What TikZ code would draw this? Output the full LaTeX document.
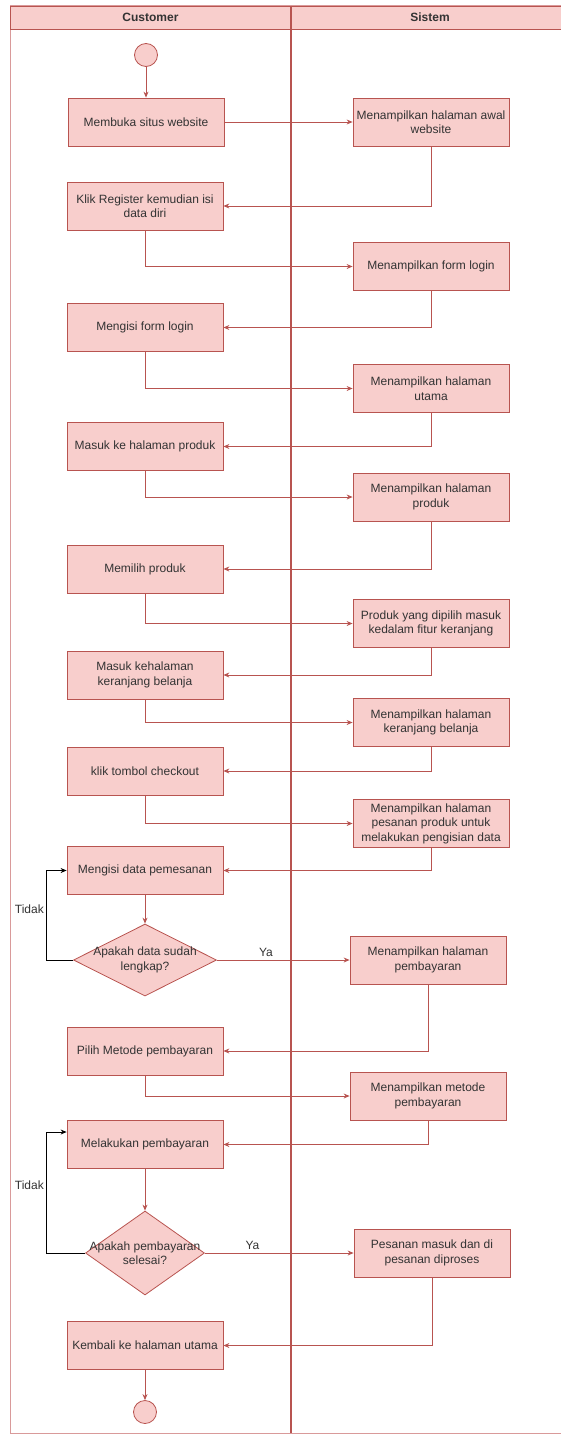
\documentclass[tikz,border=0pt]{standalone}
\usepackage{fontspec}
\setmainfont{Liberation Sans}
\usetikzlibrary{shapes.geometric,arrows.meta}
\definecolor{fc}{HTML}{F8CECC}
\definecolor{lc}{HTML}{B85450}
\definecolor{pl}{HTML}{D99A9A}
\definecolor{txt}{HTML}{333333}
\newcommand{\fs}{\fontsize{12}{14.5}\selectfont}
\tikzset{
  act/.style={draw=lc, fill=fc, line width=0.8pt, minimum width=156pt, minimum height=48pt,
    align=center, font=\fs, text=txt, inner sep=2pt},
  dec/.style={diamond, draw=lc, fill=fc, line width=0.8pt, inner sep=0pt},
  dot/.style={circle, draw=lc, fill=fc, line width=0.8pt, minimum size=23pt, inner sep=0pt},
  flow/.style={draw=lc, line width=0.8pt, -{Stealth[length=6pt,width=5pt]}},
  back/.style={draw=black, line width=0.8pt, -{Stealth[length=6pt,width=5pt]}},
  lbl/.style={font=\fs, text=txt, inner sep=1pt},
  hdr/.style={font=\fs\bfseries, text=txt}
}
\begin{document}
\begin{tikzpicture}[x=1pt,y=-1pt]
\useasboundingbox (0,0) rectangle (561,1437);
% pool
\draw[pl, line width=1pt] (10,6) rectangle (569,1433);
\draw[lc, line width=0.8pt, fill=fc] (10,6) rectangle (569,29);
\draw[lc, line width=1.3pt] (291,6) -- (291,1433);
\node[hdr] (h1) at (150.5,17.5) {Customer};
\node[hdr] (h2) at (430,17.5) {Sistem};
% nodes
\node[dot] (start) at (146,55) {};
\node[act] (b1) at (146,122) {Membuka situs website};
\node[act] (r1) at (431,122) {Menampilkan halaman awal\\website};
\node[act] (b2) at (145,206) {Klik Register kemudian isi\\data diri};
\node[act] (r2) at (431,266.5) {Menampilkan form login};
\node[act] (b3) at (145,327.5) {Mengisi form login};
\node[act] (r3) at (431,388.5) {Menampilkan halaman\\utama};
\node[act] (b4) at (145,446.5) {Masuk ke halaman produk};
\node[act] (r4) at (431,497) {Menampilkan halaman\\produk};
\node[act] (b5) at (145,569) {Memilih produk};
\node[act] (r5) at (431,623.5) {Produk yang dipilih masuk\\kedalam fitur keranjang};
\node[act] (b6) at (145,675) {Masuk kehalaman\\keranjang belanja};
\node[act] (r6) at (431,722.5) {Menampilkan halaman\\keranjang belanja};
\node[act] (b7) at (145,771) {klik tombol checkout};
\node[act] (r7) at (431,823.5) {Menampilkan halaman\\pesanan produk untuk\\melakukan pengisian data};
\node[act] (b8) at (145,870.5) {Mengisi data pemesanan};
\node[dec, minimum width=143pt, minimum height=72pt,
  label={[lbl, align=center]center:{Apakah data sudah\\lengkap?}}] (d1) at (145,960) {};
\node[act] (r8) at (428,960) {Menampilkan halaman\\pembayaran};
\node[act] (b9) at (145,1051) {Pilih Metode pembayaran};
\node[act] (r9) at (428,1096) {Menampilkan metode\\pembayaran};
\node[act] (b10) at (145,1144.5) {Melakukan pembayaran};
\node[dec, minimum width=119pt, minimum height=84pt,
  label={[lbl, align=center]center:{Apakah pembayaran\\selesai?}}] (d2) at (145,1253) {};
\node[act] (r10) at (432,1253) {Pesanan masuk dan di\\pesanan diproses};
\node[act] (b11) at (145,1345.5) {Kembali ke halaman utama};
\node[dot] (end) at (145,1412) {};
% connectors
\draw[flow] (start) -- (b1);
\draw[flow] (b1) -- (r1);
\draw[flow] (r1.south) |- (b2.east);
\draw[flow] (b2.south) |- (r2.west);
\draw[flow] (r2.south) |- (b3.east);
\draw[flow] (b3.south) |- (r3.west);
\draw[flow] (r3.south) |- (b4.east);
\draw[flow] (b4.south) |- (r4.west);
\draw[flow] (r4.south) |- (b5.east);
\draw[flow] (b5.south) |- (r5.west);
\draw[flow] (r5.south) |- (b6.east);
\draw[flow] (b6.south) |- (r6.west);
\draw[flow] (r6.south) |- (b7.east);
\draw[flow] (b7.south) |- (r7.west);
\draw[flow] (r7.south) |- (b8.east);
\draw[flow] (b8) -- (d1);
\draw[flow] (d1.east) -- node[lbl, pos=0.37, above=2pt] (ya1) {Ya} (r8.west);
\draw[flow] (r8.south) |- (b9.east);
\draw[flow] (b9.south) |- (r9.west);
\draw[flow] (r9.south) |- (b10.east);
\draw[flow] (b10) -- (d2);
\draw[flow] (d2.east) -- node[lbl, pos=0.32, above=2pt] (ya2) {Ya} (r10.west);
\draw[flow] (r10.south) |- (b11.east);
\draw[flow] (b11) -- (end);
% loops
\coordinate (k) at (46,0);
\coordinate (k2) at ([yshift=12.5pt]b10.west);
\draw[back] (d1.west) -- (d1.west -| k) |- (b8.west);
\draw[back] (d2.west) -- (d2.west -| k) |- (k2);
\node[lbl, anchor=east] (t1) at (45,909) {Tidak};
\node[lbl, anchor=east] (t2) at (45,1185) {Tidak};
\end{tikzpicture}
\end{document}
